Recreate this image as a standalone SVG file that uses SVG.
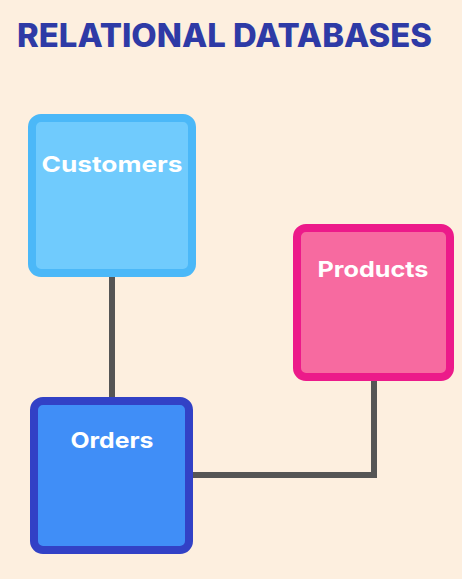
<svg xmlns="http://www.w3.org/2000/svg" width="462" height="579" viewBox="0 0 462 579">
<style>
.lbl{font-family:Inter,"Open Sans","Liberation Sans",sans-serif;font-weight:700;fill:#ffffff;font-size:22px;text-anchor:middle}
.title{font-family:Inter,"Open Sans","Liberation Sans",sans-serif;font-weight:800;fill:#2e3aa6;font-size:32px}
.box{stroke-width:8}
.conn{fill:none;stroke:#555555;stroke-width:6}
</style>
<rect width="462" height="579" fill="#fdefdf"/>
<text class="title" x="17" y="47" textLength="415" lengthAdjust="spacingAndGlyphs">RELATIONAL DATABASES</text>
<g id="connectors">
<path class="conn" d="M112 277 V397"/>
<path class="conn" d="M193 475 H374 V381"/>
</g>
<g id="customers">
<rect class="box" x="32" y="118" width="160" height="155" rx="9" fill="#70cbfd" stroke="#4bb8f8"/>
<text class="lbl" x="112" y="172" textLength="141" lengthAdjust="spacingAndGlyphs">Customers</text>
</g>
<g id="products">
<rect class="box" x="297" y="228" width="153" height="149" rx="9" fill="#f76aa0" stroke="#ec1a8a"/>
<text class="lbl" x="373" y="277" textLength="111" lengthAdjust="spacingAndGlyphs">Products</text>
</g>
<g id="orders">
<rect class="box" x="34" y="401" width="155" height="149" rx="9" fill="#408ef7" stroke="#3241c6"/>
<text class="lbl" x="112" y="448" textLength="83" lengthAdjust="spacingAndGlyphs">Orders</text>
</g>
</svg>
